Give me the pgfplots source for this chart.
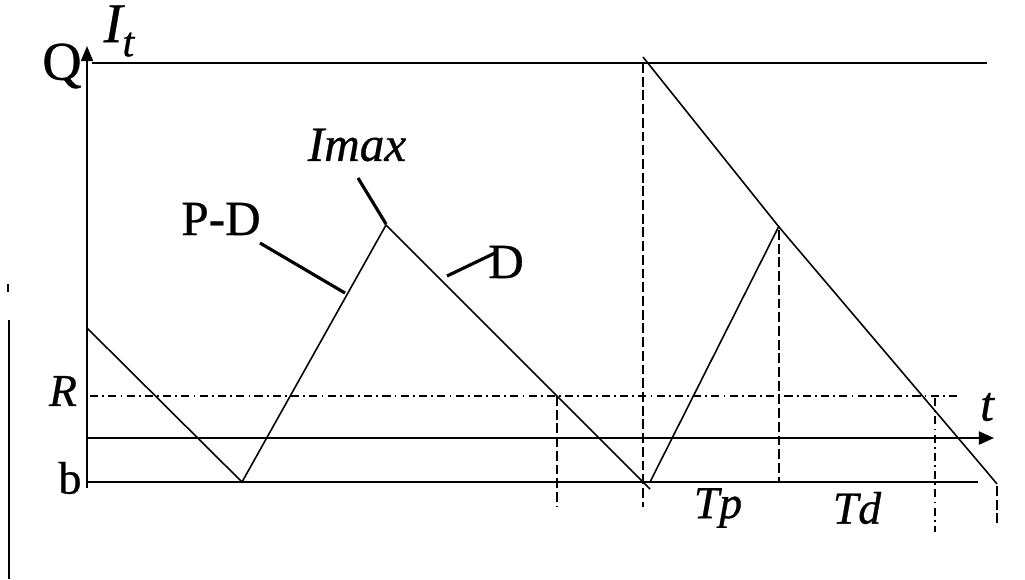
\documentclass[border=0pt]{standalone}
\usepackage{fontspec}
\setmainfont{Liberation Serif}[FakeBold=0.6]
\usepackage{pgfplots}
\pgfplotsset{compat=1.18}
\usetikzlibrary{arrows.meta}

\begin{document}
\begin{tikzpicture}
\begin{axis}[
  width=10.25cm, height=5.79cm, scale only axis,
  xmin=0, xmax=1025, ymin=0, ymax=579, y dir=reverse,
  hide axis, clip=false,
]
% corners for the bounding box
\coordinate (bl) at (axis cs:0,579);
\coordinate (tr) at (axis cs:1025,0);

% levels Q, R, b
\addplot[black, line width=0.45pt] coordinates {(92,63) (987,63)};
\addplot[black, line width=0.45pt, dash pattern=on 2.3pt off 1.2pt on 0.5pt off 1.2pt] coordinates {(90,396) (960,396)};
\addplot[black, line width=0.45pt] coordinates {(88,482) (978,482)};

% axes
\addplot[black, line width=0.6pt, -{Triangle[length=4.3pt,width=3.4pt]}] coordinates {(87,488) (87,46)};
\addplot[black, line width=0.6pt, -{Triangle[length=4.3pt,width=3.7pt]}] coordinates {(88,438) (994,438)};

% inventory curve
\addplot[black, line width=0.45pt] coordinates {(87,328) (242,482) (386,225) (650,489)};
\addplot[black, line width=0.45pt] coordinates {(650,482) (779,226)};
\addplot[black, line width=0.45pt] coordinates {(643,57) (779,227) (987,472) (997,484)};

% dashed verticals
\addplot[black, line width=0.5pt, dash pattern=on 2.8pt off 1.1pt] coordinates {(557,396) (557,507)};
\addplot[black, line width=0.5pt, dash pattern=on 2.8pt off 1.1pt] coordinates {(643,63) (643,507)};
\addplot[black, line width=0.5pt, dash pattern=on 2.8pt off 1.1pt] coordinates {(779,230) (779,482)};
\addplot[black, line width=0.5pt, dash pattern=on 2.3pt off 1.2pt on 0.5pt off 1.2pt] coordinates {(935,398) (935,532)};
\addplot[black, line width=0.5pt, dash pattern=on 2.8pt off 1.1pt] coordinates {(997,486) (997,524)};

% pointer lines
\addplot[black, line width=0.9pt] coordinates {(260,243) (345,293)};
\addplot[black, line width=0.9pt] coordinates {(358,178) (386,224)};
\addplot[black, line width=0.9pt] coordinates {(447,276) (495,253)};

% scan edge on the left
\addplot[black, line width=0.6pt] coordinates {(9,320) (9,579)};
\addplot[black, line width=0.5pt] coordinates {(8,284) (8,292)};

% labels
\node[font=\fontsize{16}{18}\selectfont\itshape] at (axis cs:119,31) {I\raisebox{-0.55ex}{\fontsize{12}{14}\selectfont t}};
\node[font=\fontsize{15.5}{18}\selectfont] at (axis cs:62,66) {Q};
\node[font=\fontsize{14}{16}\selectfont\itshape] at (axis cs:357,145) {Imax};
\node[font=\fontsize{14}{16}\selectfont] at (axis cs:221,219) {P-D};
\node[font=\fontsize{14}{16}\selectfont] at (axis cs:506,262) {D};
\node[font=\fontsize{13}{15}\selectfont\itshape] at (axis cs:63,391) {R};
\node[font=\fontsize{13}{15}\selectfont] at (axis cs:70,478) {b};
\node[font=\fontsize{14}{16}\selectfont\itshape] at (axis cs:987,407) {t};
\node[font=\fontsize{13}{15}\selectfont\itshape] at (axis cs:718,508) {Tp};
\node[font=\fontsize{13}{15}\selectfont\itshape] at (axis cs:857,508) {Td};
\end{axis}
\pgfresetboundingbox
\path (bl) rectangle (tr);
\end{tikzpicture}
\end{document}
